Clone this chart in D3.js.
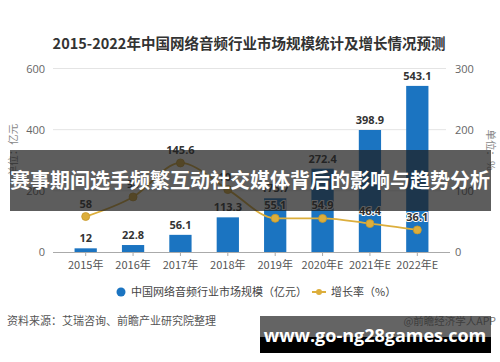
<!DOCTYPE html>
<html>
<head>
<meta charset="utf-8">
<script src="https://cdn.jsdelivr.net/npm/d3@7/dist/d3.min.js"></script>
<style>
  body { margin: 0; background: #fff; }
  svg { display: block; font-family: "Noto Sans CJK SC", "Noto Sans", sans-serif; }
</style>
</head>
<body>
<div id="chart-area"></div>
<script>
// data
const categories = ["2015年", "2016年", "2017年", "2018年", "2019年", "2020年E", "2021年E", "2022年E"];
const marketSize = [12, 22.8, 56.1, 113.3, 175.7, 272.4, 398.9, 543.1];
const growthRate = [58, 90, 145.6, 102, 55.1, 54.9, 46.4, 36.1];
const leftTicks = [0, 200, 400, 600];
const rightTicks = [0, 100, 200, 300];

const W = 500, H = 362;
const barColor = "#1b74c1";
const lineColor = "#dcae3c";

let svg = d3.select("#chart-area").append("svg")
    .attr("width", W)
    .attr("height", H);

svg.append("rect").attr("width", W).attr("height", H).attr("fill", "#fff");

// title
svg.append("text")
    .attr("x", 249).attr("y", 49)
    .attr("text-anchor", "middle")
    .attr("font-size", 14.5)
    .attr("font-weight", "bold")
    .attr("fill", "#333")
    .text("2015-2022年中国网络音频行业市场规模统计及增长情况预测");

const x = d3.scaleBand()
    .domain(categories)
    .range([62, 441])
    .paddingInner(0.53)
    .paddingOuter(0.265);

const yL = d3.scaleLinear().domain([0, 600]).range([252, 68.5]);
const yR = d3.scaleLinear().domain([0, 300]).range([252, 68.5]);

// grid lines
svg.selectAll(".grid")
    .data(leftTicks.slice(1))
    .enter()
    .append("line")
    .attr("x1", 53).attr("x2", 446)
    .attr("y1", d => yL(d)).attr("y2", d => yL(d))
    .attr("stroke", "#e4e4e4");

// left axis
const leftAxis = svg.append("g")
    .attr("transform", "translate(53,0)")
    .call(d3.axisLeft(yL).tickValues(leftTicks).tickSize(0).tickPadding(8));
leftAxis.select(".domain").remove();
leftAxis.selectAll("text").attr("font-size", 11).attr("fill", "#666")
    .attr("font-family", "\"Open Sans\", sans-serif");

// right axis
const rightAxis = svg.append("g")
    .attr("transform", "translate(446,0)")
    .call(d3.axisRight(yR).tickValues(rightTicks).tickSize(0).tickPadding(9));
rightAxis.select(".domain").remove();
rightAxis.selectAll("text").attr("font-size", 11).attr("fill", "#666")
    .attr("font-family", "\"Open Sans\", sans-serif");

// axis titles
svg.append("text")
    .attr("transform", "translate(17,150) rotate(-90)")
    .attr("text-anchor", "middle")
    .attr("font-size", 10.5).attr("fill", "#888")
    .text("单位：亿元");
svg.append("text")
    .attr("transform", "translate(487,150) rotate(90)")
    .attr("text-anchor", "middle")
    .attr("font-size", 10.5).attr("fill", "#888")
    .text("单位：%");

// bars
svg.selectAll(".bar")
    .data(marketSize)
    .enter()
    .append("rect")
    .attr("x", (d, i) => x(categories[i]))
    .attr("y", d => yL(d))
    .attr("width", x.bandwidth())
    .attr("height", d => yL(0) - yL(d))
    .attr("fill", barColor);

svg.selectAll(".barLabel")
    .data(marketSize)
    .enter()
    .append("text")
    .attr("x", (d, i) => x(categories[i]) + x.bandwidth() / 2)
    .attr("y", d => yL(d) - 6)
    .attr("text-anchor", "middle")
    .attr("font-size", 11).attr("font-weight", "bold")
    .attr("fill", "#333")
    .attr("font-family", "\"Open Sans\", sans-serif")
    .text(d => d);

// x axis
const xAxis = svg.append("g")
    .attr("transform", "translate(0,252)")
    .call(d3.axisBottom(x).tickSize(4).tickPadding(5));
xAxis.select(".domain").attr("d", "M53,0.5H450").attr("stroke", "#aaa");
xAxis.selectAll(".tick line").attr("stroke", "#aaa");
xAxis.selectAll("text").attr("font-size", 11).attr("fill", "#555")
    .attr("font-family", "\"Noto Sans CJK SC\", sans-serif");

// growth line
const cx = (d, i) => x(categories[i]) + x.bandwidth() / 2;
const line = d3.line()
    .x(cx)
    .y(d => yR(d))
    .curve(d3.curveMonotoneX);

svg.append("path")
    .datum(growthRate)
    .attr("d", line)
    .attr("fill", "none")
    .attr("stroke", lineColor)
    .attr("stroke-width", 1.8);

svg.selectAll(".dot")
    .data(growthRate)
    .enter()
    .append("circle")
    .attr("cx", cx)
    .attr("cy", d => yR(d))
    .attr("r", 4)
    .attr("fill", lineColor)
    .attr("stroke", "#c8982a")
    .attr("stroke-width", 0.8);

svg.selectAll(".rateLabel")
    .data(growthRate)
    .enter()
    .append("text")
    .attr("x", cx)
    .attr("y", d => yR(d) - 9)
    .attr("text-anchor", "middle")
    .attr("font-size", 11).attr("font-weight", "bold")
    .attr("fill", "#333")
    .attr("stroke", "#fff").attr("stroke-width", 2)
    .attr("paint-order", "stroke")
    .attr("font-family", "\"Open Sans\", sans-serif")
    .text(d => d);

// legend
svg.append("circle").attr("cx", 121).attr("cy", 292).attr("r", 4.5).attr("fill", barColor);
svg.append("text").attr("x", 131).attr("y", 296)
    .attr("font-size", 11).attr("fill", "#444")
    .text("中国网络音频行业市场规模（亿元）");
svg.append("line").attr("x1", 312).attr("x2", 326).attr("y1", 292).attr("y2", 292)
    .attr("stroke", lineColor).attr("stroke-width", 2);
svg.append("circle").attr("cx", 319).attr("cy", 292).attr("r", 3).attr("fill", lineColor);
svg.append("text").attr("x", 331).attr("y", 296)
    .attr("font-size", 11).attr("fill", "#444")
    .text("增长率（%）");

// source
svg.append("text").attr("x", 7).attr("y", 325)
    .attr("font-size", 11).attr("fill", "#555")
    .text("资料来源：艾瑞咨询、前瞻产业研究院整理");
svg.append("text").attr("x", 496).attr("y", 325)
    .attr("text-anchor", "end")
    .attr("font-size", 10.5).attr("fill", "#777")
    .text("@前瞻经济学人APP");

// overlay banner
svg.append("rect")
    .attr("x", 10).attr("y", 150).attr("width", 481).attr("height", 61)
    .attr("fill", "rgba(30,30,30,0.72)");
svg.append("text")
    .attr("x", 250).attr("y", 188)
    .attr("text-anchor", "middle")
    .attr("font-size", 20).attr("font-weight", "bold")
    .attr("fill", "#fff")
    .text("赛事期间选手频繁互动社交媒体背后的影响与趋势分析");

// bottom url box
svg.append("rect")
    .attr("x", 260).attr("y", 316).attr("width", 231).attr("height", 21)
    .attr("fill", "rgba(40,40,40,0.72)");
svg.append("rect")
    .attr("x", 260).attr("y", 337).attr("width", 231).attr("height", 16)
    .attr("fill", "#000");
svg.append("text")
    .attr("x", 375).attr("y", 342)
    .attr("text-anchor", "middle")
    .attr("font-size", 18).attr("font-weight", "bold")
    .attr("fill", "#fff")
    .attr("font-family", "\"Open Sans\", \"DejaVu Sans\", sans-serif")
    .text("www.go-ng28games.com");
</script>
</body>
</html>
